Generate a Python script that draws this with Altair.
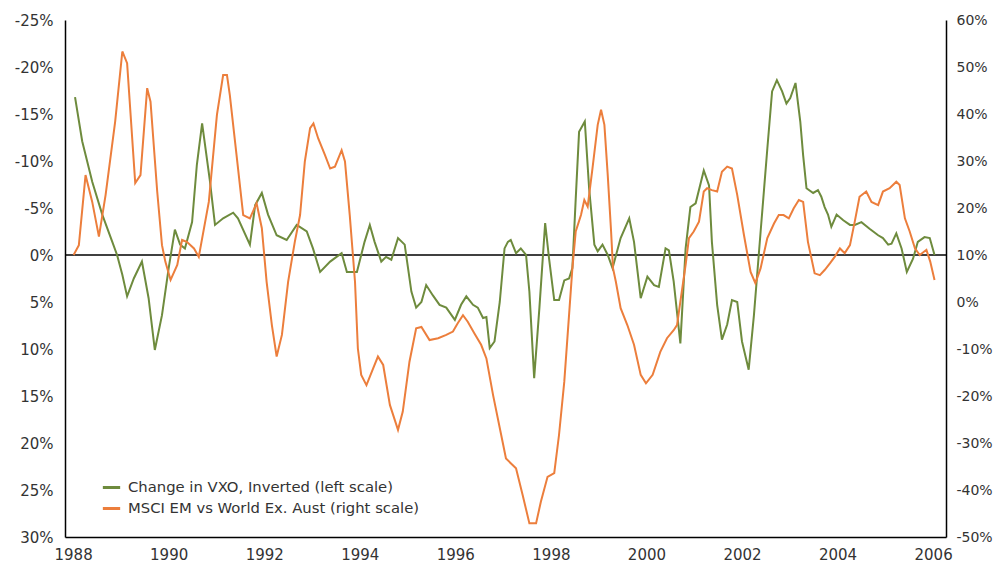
import altair as alt
import pandas as pd

GREEN_LABEL = "Change in VXO, Inverted (left scale)"
ORANGE_LABEL = "MSCI EM vs World Ex. Aust (right scale)"

green_year = [1988.04, 1988.19, 1988.40, 1988.61, 1988.82, 1988.92, 1989.03, 1989.13, 1989.27, 1989.44,
              1989.58, 1989.71, 1989.86, 1990.00, 1990.13, 1990.24, 1990.34, 1990.49, 1990.59, 1990.70,
              1990.86, 1990.97, 1991.14, 1991.35, 1991.45, 1991.70, 1991.81, 1991.95, 1992.08, 1992.26,
              1992.47, 1992.68, 1992.89, 1993.02, 1993.17, 1993.38, 1993.62, 1993.73, 1993.94, 1994.10,
              1994.21, 1994.31, 1994.45, 1994.55, 1994.66, 1994.80, 1994.94, 1995.08, 1995.18, 1995.29,
              1995.39, 1995.53, 1995.67, 1995.81, 1995.99, 1996.12, 1996.23, 1996.37, 1996.47, 1996.58,
              1996.65, 1996.72, 1996.82, 1996.93, 1997.03, 1997.10, 1997.16, 1997.27, 1997.37, 1997.48,
              1997.55, 1997.65, 1997.76, 1997.88, 1997.96, 1998.07, 1998.17, 1998.28, 1998.38, 1998.45,
              1998.52, 1998.59, 1998.71, 1998.80, 1998.91, 1998.98, 1999.08, 1999.19, 1999.29, 1999.46,
              1999.64, 1999.74, 1999.88, 2000.02, 2000.16, 2000.26, 2000.40, 2000.47, 2000.57, 2000.71,
              2000.82, 2000.92, 2001.03, 2001.20, 2001.31, 2001.37, 2001.48, 2001.58, 2001.69, 2001.79,
              2001.90, 2002.00, 2002.14, 2002.25, 2002.39, 2002.53, 2002.63, 2002.73, 2002.84, 2002.93,
              2003.01, 2003.12, 2003.22, 2003.28, 2003.35, 2003.49, 2003.59, 2003.66, 2003.73, 2003.80,
              2003.87, 2003.98, 2004.12, 2004.26, 2004.36, 2004.50, 2004.67, 2004.85, 2004.95, 2005.06,
              2005.13, 2005.23, 2005.34, 2005.45, 2005.58, 2005.68, 2005.82, 2005.93, 2006.03]
green_val = [-16.8, -12.1, -7.8, -4.3, -1.4, 0.0, 2.1, 4.4, 2.5, 0.7,
             4.6, 10.1, 6.4, 1.4, -2.7, -1.1, -0.7, -3.5, -9.6, -14.0,
             -8.0, -3.2, -3.9, -4.5, -3.9, -1.1, -5.3, -6.6, -4.3, -2.1,
             -1.6, -3.2, -2.5, -0.7, 1.8, 0.7, -0.2, 1.8, 1.8, -1.4,
             -3.2, -1.4, 0.7, 0.2, 0.5, -1.8, -1.1, 3.9, 5.6, 5.0,
             3.2, 4.3, 5.3, 5.6, 6.9, 5.3, 4.4, 5.3, 5.6, 6.7,
             6.6, 9.9, 9.2, 5.0, -0.7, -1.4, -1.6, -0.2, -0.7, 0.0,
             3.9, 13.1, 5.6, -3.4, 0.3, 4.8, 4.8, 2.7, 2.5, 1.4,
             -6.0, -13.1, -14.2, -7.1, -1.1, -0.4, -1.1, 0.0, 1.4, -1.8,
             -3.9, -1.4, 4.6, 2.3, 3.2, 3.4, -0.7, -0.5, 2.8, 9.4,
             -0.7, -5.1, -5.5, -9.0, -7.4, -1.4, 5.3, 9.0, 7.4, 4.8,
             5.0, 9.2, 12.2, 6.4, -2.5, -11.3, -17.4, -18.6, -17.4, -16.1,
             -16.7, -18.3, -14.2, -10.6, -7.1, -6.6, -6.9, -6.2, -5.1, -4.3,
             -3.0, -4.3, -3.7, -3.2, -3.2, -3.5, -2.8, -2.1, -1.8, -1.1,
             -1.2, -2.3, -0.7, 1.8, 0.4, -1.4, -1.9, -1.8, 0.0]

orange_year = [1988.01, 1988.12, 1988.26, 1988.40, 1988.54, 1988.68, 1988.88, 1989.03, 1989.13, 1989.30,
               1989.41, 1989.55, 1989.62, 1989.76, 1989.86, 1989.93, 1990.04, 1990.18, 1990.28, 1990.38,
               1990.53, 1990.63, 1990.84, 1991.01, 1991.14, 1991.22, 1991.28, 1991.42, 1991.56, 1991.70,
               1991.84, 1991.95, 1992.05, 1992.16, 1992.26, 1992.37, 1992.50, 1992.64, 1992.75, 1992.85,
               1992.96, 1993.03, 1993.13, 1993.27, 1993.38, 1993.48, 1993.62, 1993.69, 1993.79, 1993.90,
               1993.96, 1994.03, 1994.14, 1994.28, 1994.38, 1994.49, 1994.63, 1994.80, 1994.90, 1995.04,
               1995.18, 1995.29, 1995.46, 1995.64, 1995.81, 1995.95, 1996.05, 1996.16, 1996.26, 1996.40,
               1996.54, 1996.65, 1996.79, 1996.96, 1997.06, 1997.16, 1997.27, 1997.41, 1997.55, 1997.69,
               1997.79, 1997.93, 1998.07, 1998.17, 1998.28, 1998.38, 1998.45, 1998.52, 1998.63, 1998.70,
               1998.77, 1998.87, 1998.98, 1999.05, 1999.12, 1999.19, 1999.26, 1999.30, 1999.36, 1999.46,
               1999.60, 1999.74, 1999.88, 1999.99, 2000.13, 2000.29, 2000.43, 2000.57, 2000.64, 2000.71,
               2000.82, 2000.89, 2000.99, 2001.10, 2001.20, 2001.27, 2001.37, 2001.48, 2001.58, 2001.69,
               2001.79, 2001.90, 2002.04, 2002.18, 2002.28, 2002.39, 2002.53, 2002.67, 2002.77, 2002.87,
               2002.98, 2003.08, 2003.19, 2003.28, 2003.38, 2003.52, 2003.63, 2003.73, 2003.84, 2003.94,
               2004.05, 2004.15, 2004.26, 2004.36, 2004.46, 2004.60, 2004.71, 2004.85, 2004.95, 2005.09,
               2005.23, 2005.30, 2005.41, 2005.51, 2005.62, 2005.72, 2005.86, 2005.94, 2006.03]
orange_val = [10.0, 12.1, 27.0, 21.3, 13.9, 22.8, 38.4, 53.3, 50.8, 25.3,
              27.0, 45.5, 42.6, 23.5, 12.1, 8.6, 4.7, 7.9, 13.2, 12.8,
              11.4, 9.6, 21.3, 39.8, 48.3, 48.3, 44.0, 31.3, 18.5, 17.8,
              21.0, 15.7, 4.3, -4.9, -11.6, -7.0, 4.3, 12.8, 18.5, 29.9,
              37.0, 38.0, 34.8, 31.3, 28.4, 28.8, 32.3, 29.9, 18.5, 4.3,
              -9.9, -15.5, -17.7, -14.1, -11.6, -13.4, -21.9, -27.2, -23.3, -12.7,
              -5.6, -5.3, -8.1, -7.7, -7.0, -6.3, -4.5, -2.8, -4.2, -6.7,
              -9.1, -12.0, -19.8, -28.3, -33.3, -34.3, -35.4, -41.1, -47.1, -47.1,
              -42.5, -37.2, -36.4, -28.3, -17.0, -2.8, 7.2, 15.0, 18.5, 21.7,
              20.3, 28.4, 37.7, 40.9, 37.7, 27.0, 15.0, 7.2, 4.3, -1.3,
              -4.9, -9.1, -15.5, -17.3, -15.5, -10.6, -7.7, -6.0, -4.9, 0.1,
              7.9, 13.6, 15.0, 17.1, 23.5, 24.2, 23.8, 23.5, 27.7, 28.8,
              28.4, 22.8, 14.3, 6.4, 4.0, 7.2, 13.6, 16.7, 18.5, 18.5,
              17.8, 19.9, 21.7, 21.3, 12.8, 6.1, 5.7, 6.8, 8.2, 9.6,
              11.4, 10.4, 12.1, 17.1, 22.4, 23.5, 21.3, 20.6, 23.5, 24.2,
              25.6, 24.9, 17.8, 15.0, 11.4, 10.0, 11.1, 8.6, 4.7]

x_ticks = list(range(1988, 2007, 2))
left_ticks = list(range(-25, 31, 5))
right_ticks = list(range(-50, 61, 10))

GREEN = "#6e8b3d"
ORANGE = "#ec7e3c"
FONT = "DejaVu Sans"
LABEL_COLOR = "#333333"

df_g = pd.DataFrame({"year": green_year, "value": green_val, "series": GREEN_LABEL})
df_o = pd.DataFrame({"year": orange_year, "value": orange_val, "series": ORANGE_LABEL})
df_zero = pd.DataFrame({"value": [0]})

x_enc = alt.X(
    "year:Q",
    scale=alt.Scale(domain=[1987.83, 2006.27], nice=False, zero=False),
    axis=alt.Axis(values=x_ticks, format="d", title=None, grid=False, ticks=False,
                  domainColor="black", domainWidth=1.5, labelFont=FONT, labelFontSize=15,
                  labelColor=LABEL_COLOR, labelPadding=10, labelFlush=False),
)

left_scale = alt.Scale(domain=[-25, 30], reverse=True, nice=False, zero=False)
right_scale = alt.Scale(domain=[-50, 60], nice=False, zero=False)

left_axis = alt.Axis(orient="left", values=left_ticks, labelExpr="datum.value + '%'",
                     title=None, grid=False, ticks=False, domainColor="black",
                     domainWidth=1.5, labelFont=FONT, labelFontSize=15,
                     labelColor=LABEL_COLOR, labelPadding=12)
right_axis = alt.Axis(orient="right", values=right_ticks, labelExpr="datum.value + '%'",
                      title=None, grid=False, ticks=False, domainColor="black",
                      domainWidth=1.5, labelFont=FONT, labelFontSize=14,
                      labelColor=LABEL_COLOR, labelPadding=10)

color_enc = alt.Color(
    "series:N",
    scale=alt.Scale(domain=[GREEN_LABEL, ORANGE_LABEL], range=[GREEN, ORANGE]),
    legend=alt.Legend(title=None, orient="none", legendX=36, legendY=457,
                      symbolType="stroke", symbolStrokeWidth=3, symbolSize=300,
                      labelFont=FONT, labelFontSize=14.8, labelColor=LABEL_COLOR,
                      labelLimit=0, labelOffset=6, rowPadding=3, padding=0),
)

zero_rule = alt.Chart(df_zero).mark_rule(color="black", strokeWidth=1.5).encode(
    y=alt.Y("value:Q", scale=left_scale, axis=left_axis)
)

green_line = alt.Chart(df_g).mark_line(strokeWidth=2).encode(
    x=x_enc,
    y=alt.Y("value:Q", scale=left_scale, axis=left_axis),
    color=color_enc,
)

orange_line = alt.Chart(df_o).mark_line(strokeWidth=2).encode(
    x=x_enc,
    y=alt.Y("value:Q", scale=right_scale, axis=right_axis),
    color=color_enc,
)

left_layer = alt.layer(zero_rule, green_line)

chart = (
    alt.layer(left_layer, orange_line)
    .resolve_scale(y="independent")
    .properties(width=881, height=517,
                padding={"left": 57, "top": 12, "right": 47, "bottom": 26},
                autosize=alt.AutoSizeParams(type="none"))
    .configure_view(stroke=None)
)

chart.save("out.html", embed_options={"renderer": "svg", "actions": False})
